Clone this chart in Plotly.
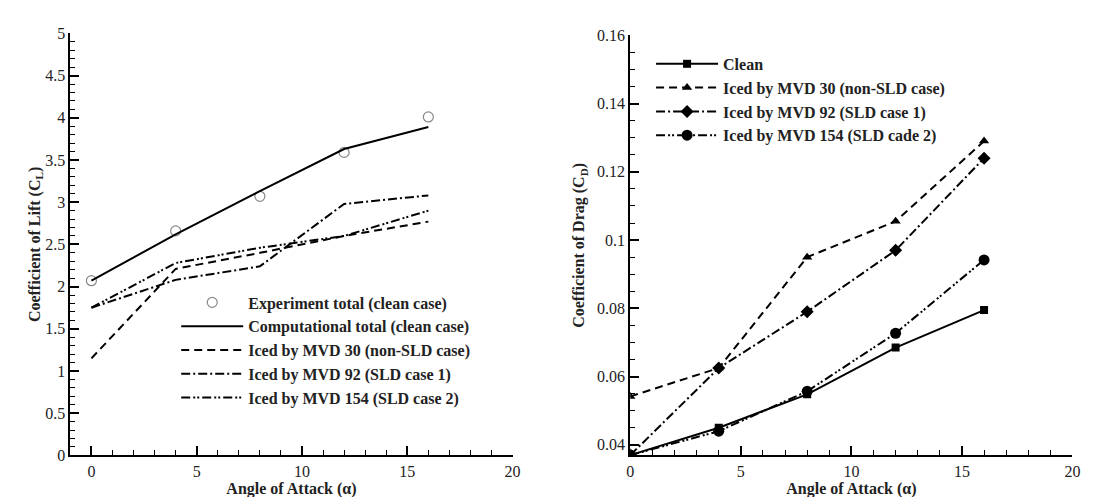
import plotly.graph_objects as go

# ---- Data ----
aoa = [0, 4, 8, 12, 16]

# Lift (left)
cl_experiment = [2.07, 2.66, 3.07, 3.59, 4.01]
cl_computational = [2.07, 2.62, 3.13, 3.63, 3.89]
cl_mvd30 = [1.15, 2.21, 2.40, 2.60, 2.77]
cl_mvd92 = [1.75, 2.08, 2.24, 2.98, 3.08]
cl_mvd154 = [1.75, 2.28, 2.46, 2.60, 2.90]

# Drag (right)
cd_clean = [0.0370, 0.0450, 0.0548, 0.0685, 0.0795]
cd_mvd30 = [0.0542, 0.0625, 0.0950, 0.1055, 0.1290]
cd_mvd92 = [0.0370, 0.0625, 0.0790, 0.0970, 0.1240]
cd_mvd154 = [0.0370, 0.0440, 0.0557, 0.0727, 0.0942]

left_names = ["Experiment total (clean case)", "Computational total (clean case)",
              "Iced by MVD 30 (non-SLD case)", "Iced by MVD 92 (SLD case 1)",
              "Iced by MVD 154 (SLD case 2)"]
right_names = ["Clean", "Iced by MVD 30 (non-SLD case)",
               "Iced by MVD 92 (SLD case 1)", "Iced by MVD 154 (SLD cade 2)"]

SERIF = "Liberation Serif"
DASH = "8px,5px"
DASHDOT = "9px,3px,2px,3px"
DASHDOTDOT = "9px,3px,2px,2px,2px,3px"

fig = go.Figure()

# Left chart traces
fig.add_trace(go.Scatter(x=aoa, y=cl_experiment, mode="markers", name=left_names[0],
                         marker=dict(symbol="circle-open", size=10, color="#888888", line=dict(width=1.2)),
                         xaxis="x", yaxis="y", legend="legend"))
fig.add_trace(go.Scatter(x=aoa, y=cl_computational, mode="lines", name=left_names[1],
                         line=dict(color="black", width=2),
                         xaxis="x", yaxis="y", legend="legend"))
fig.add_trace(go.Scatter(x=aoa, y=cl_mvd30, mode="lines", name=left_names[2],
                         line=dict(color="black", width=2, dash=DASH),
                         xaxis="x", yaxis="y", legend="legend"))
fig.add_trace(go.Scatter(x=aoa, y=cl_mvd92, mode="lines", name=left_names[3],
                         line=dict(color="black", width=2, dash=DASHDOT),
                         xaxis="x", yaxis="y", legend="legend"))
fig.add_trace(go.Scatter(x=aoa, y=cl_mvd154, mode="lines", name=left_names[4],
                         line=dict(color="black", width=2, dash=DASHDOTDOT),
                         xaxis="x", yaxis="y", legend="legend"))

# Right chart traces
fig.add_trace(go.Scatter(x=aoa, y=cd_clean, mode="lines+markers", name=right_names[0],
                         line=dict(color="black", width=2),
                         marker=dict(symbol="square", size=8, color="black"),
                         xaxis="x2", yaxis="y2", legend="legend2"))
fig.add_trace(go.Scatter(x=aoa, y=cd_mvd30, mode="lines+markers", name=right_names[1],
                         line=dict(color="black", width=2, dash=DASH),
                         marker=dict(symbol="triangle-up", size=9, color="black"),
                         xaxis="x2", yaxis="y2", legend="legend2"))
fig.add_trace(go.Scatter(x=aoa, y=cd_mvd92, mode="lines+markers", name=right_names[2],
                         line=dict(color="black", width=2, dash=DASHDOT),
                         marker=dict(symbol="diamond", size=10, color="black"),
                         xaxis="x2", yaxis="y2", legend="legend2"))
fig.add_trace(go.Scatter(x=aoa, y=cd_mvd154, mode="lines+markers", name=right_names[3],
                         line=dict(color="black", width=2, dash=DASHDOTDOT),
                         marker=dict(symbol="circle", size=11, color="black"),
                         xaxis="x2", yaxis="y2", legend="legend2"))

W, H = 1118, 497
tickfont = dict(family=SERIF, size=16, color="#222")
titlefont = dict(family=SERIF, size=16, color="#222")

def xax(domain, rng):
    return dict(domain=domain, range=rng, tickmode="array", tickvals=[0, 5, 10, 15, 20],
                ticks="inside", ticklen=9, tickwidth=2, tickcolor="black",
                minor=dict(ticks="inside", ticklen=5, tickwidth=1, dtick=1, tickcolor="black", showgrid=False),
                showline=True, linecolor="black", linewidth=2, mirror=False,
                showgrid=False, zeroline=False, tickfont=tickfont,
                title=dict(text="<b>Angle of Attack (α)</b>", font=titlefont, standoff=1))

y_dom_l = [1 - 455 / H, 1 - 18 / H]
y_dom_r = [1 - 455 / H, 1 - 20 / H]

fig.update_layout(
    width=W, height=H,
    margin=dict(l=0, r=0, t=0, b=0),
    paper_bgcolor="white", plot_bgcolor="white",
    font=dict(family=SERIF),
    xaxis=xax([59 / W, 506 / W], [-1, 20]),
    xaxis2=xax([625 / W, 1072 / W], [0, 20]),
    yaxis=dict(domain=y_dom_l, range=[0, 5], anchor="x", dtick=0.5, tick0=0,
               ticks="inside", ticklen=9, tickwidth=2, tickcolor="black",
               minor=dict(ticks="inside", ticklen=5, tickwidth=1, dtick=0.1, tickcolor="black", showgrid=False),
               showline=True, linecolor="black", linewidth=2, showgrid=False, zeroline=False,
               tickfont=tickfont,
               title=dict(text="<b>Coefficient of Lift (C<sub>L</sub>)</b>", font=titlefont, standoff=1)),
    yaxis2=dict(domain=y_dom_r, range=[0.0369, 0.16], anchor="x2",
                tickmode="array", tickvals=[0.04, 0.06, 0.08, 0.1, 0.12, 0.14, 0.16],
                ticktext=["0.04", "0.06", "0.08", "0.1", "0.12", "0.14", "0.16"],
                ticks="inside", ticklen=9, tickwidth=2, tickcolor="black",
                minor=dict(ticks="inside", ticklen=5, tickwidth=1, dtick=0.005, tick0=0.04, tickcolor="black", showgrid=False),
                showline=True, linecolor="black", linewidth=2, showgrid=False, zeroline=False,
                tickfont=tickfont,
                title=dict(text="<b>Coefficient of Drag (C<sub>D</sub>)</b>", font=titlefont, standoff=8)),
    legend=dict(x=166 / W, y=1 - 279 / H, xanchor="left", yanchor="top",
                bgcolor="rgba(0,0,0,0)", font=dict(family=SERIF, size=16, color="#222", weight="bold"),
                itemwidth=62, tracegroupgap=0),
    legend2=dict(x=646 / W, y=1 - 32 / H, xanchor="left", yanchor="top",
                 bgcolor="rgba(0,0,0,0)", font=dict(family=SERIF, size=16, color="#222", weight="bold"),
                 itemwidth=62, tracegroupgap=0),
    showlegend=True,
)

fig.write_html("out.html")
